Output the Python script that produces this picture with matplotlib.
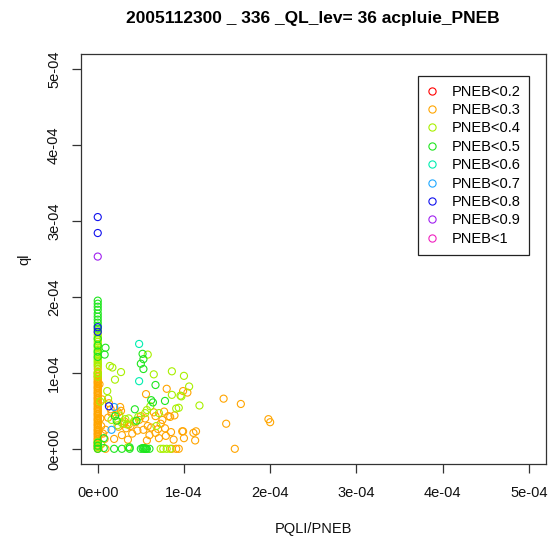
import matplotlib
matplotlib.use("Agg")
import matplotlib.pyplot as plt
from matplotlib.lines import Line2D

plt.rcParams['font.family'] = ['Liberation Sans', 'DejaVu Sans']

SCALE = 1e-4  # all values below are in units of 1e-4

title = "2005112300 _ 336 _QL_lev= 36 acpluie_PNEB"
xlabel = "PQLI/PNEB"
ylabel = "ql"
tick_values = [0, 1, 2, 3, 4, 5]
tick_labels = ["0e+00", "1e-04", "2e-04", "3e-04", "4e-04", "5e-04"]

classes = ["PNEB<0.2", "PNEB<0.3", "PNEB<0.4", "PNEB<0.5", "PNEB<0.6",
           "PNEB<0.7", "PNEB<0.8", "PNEB<0.9", "PNEB<1"]
colors = ["#FF0000", "#FFA500", "#A8F000", "#1EE61E", "#00EEB0",
          "#20A8FF", "#1010EE", "#A020F0", "#F020C0"]

# PNEB < 0.2 : no points
x_02 = []
y_02 = []

# PNEB < 0.3
x_03 = [0, 0, 0, 0, 0, 0, 0, 0, 0, 0, 0, 0, 0, 0, 0, 0, 0, 0, 0, 0,
        0, 0, 0, 0, 0, 0, 0, 0, 0, 0, 0, 0, 0, 0, 0, 0, 0, 0, 0, 0,
        0, 0, 0, 0, 0, 0, 0, 0, 0, 0, 0, 0, 0, 0, 0, 0, 0, 0, 0, 0,
        0.27, 0.24, 0.56, 0.80, 0.99, 1.04, 1.46, 1.66, 1.49, 1.98,
        2.00, 0.99, 1.00, 1.11, 1.14, 1.13, 1.59, 0.94, 0.91, 0.86,
        0.09, 0.50, 0.48, 0.55, 0.67, 0.77, 0.75, 0.82, 0.98, 0.79,
        0.71, 0.67, 0.60, 0.53, 0.46, 0.28, 0.24, 0.09, 0.08, 0.19,
        0.13, 0.15, 0.16, 0.38, 0.33, 0.62, 0.70, 0.44, 0.58, 0.85,
        0.73, 0.40, 0.31, 0.03, 0.05, 0.02, 0.04, 0.65, 0.88, 0.36,
        0.21, 0.30, 0.12, 0.26, 0.84, 0.89, 0.78, 0.57, 0.06, 0.35]
y_03 = [0.00, 0.02, 0.03, 0.05, 0.07, 0.08, 0.10, 0.12, 0.13, 0.15,
        0.17, 0.19, 0.20, 0.22, 0.24, 0.25, 0.27, 0.29, 0.31, 0.32,
        0.34, 0.36, 0.38, 0.39, 0.41, 0.43, 0.45, 0.46, 0.48, 0.50,
        0.52, 0.53, 0.55, 0.57, 0.59, 0.60, 0.62, 0.64, 0.66, 0.67,
        0.69, 0.71, 0.73, 0.74, 0.76, 0.78, 0.80, 0.81, 0.83, 0.85,
        0.87, 0.88, 0.90, 0.92, 0.94, 0.96, 0.98, 1.01, 1.05, 1.10,
        0.50, 0.48, 0.72, 0.79, 0.76, 0.74, 0.66, 0.59, 0.33, 0.39,
        0.35, 0.23, 0.14, 0.21, 0.23, 0.11, 0.00, 0.00, 0.00, 0.00,
        0.00, 0.43, 0.38, 0.40, 0.43, 0.49, 0.38, 0.43, 0.23, 0.17,
        0.14, 0.21, 0.18, 0.25, 0.24, 0.18, 0.29, 0.25, 0.13, 0.13,
        0.60, 0.52, 0.47, 0.30, 0.27, 0.28, 0.26, 0.35, 0.30, 0.22,
        0.33, 0.20, 0.36, 0.40, 0.65, 0.85, 0.30, 0.48, 0.12, 0.32,
        0.45, 0.33, 0.41, 0.55, 0.42, 0.44, 0.27, 0.11, 0.20, 0.12]

# PNEB < 0.4
x_04 = [0, 0, 0, 0, 0, 0, 0, 0, 0, 0, 0, 0, 0, 0, 0, 0, 0, 0, 0, 0,
        0, 0, 0, 0, 0,
        0.58, 0.14, 0.17, 0.27, 0.20, 0.65, 0.86, 1.00, 1.06, 0.11,
        0.86, 0.96, 1.18, 0.91, 0.57, 0.97, 0.94, 0.32, 0.36, 0.28,
        0.34, 0.16, 0.71, 0.55, 0.73, 0.76, 0.80, 0.35, 0.84, 0.42,
        0.04, 0.03, 0.12, 0.61, 0.25, 0.23, 0.68, 0.47]
y_04 = [1.12, 1.14, 1.16, 1.18, 1.20, 1.23, 1.25, 1.27, 1.30, 1.33,
        1.35, 1.38, 1.41, 1.44, 1.47, 1.50, 1.53, 1.56, 0.02, 0.05,
        0.09, 1.00, 0.95, 0.99, 1.08,
        1.24, 1.09, 1.07, 1.01, 0.91, 0.98, 1.02, 0.96, 0.82, 0.76,
        0.71, 0.70, 0.57, 0.53, 0.51, 0.69, 0.54, 0.39, 0.40, 0.34,
        0.32, 0.38, 0.47, 0.47, 0.00, 0.00, 0.00, 0.02, 0.00, 0.36,
        0.06, 0.62, 0.66, 0.56, 0.44, 0.31, 0.30, 0.42]

# PNEB < 0.5
x_05 = [0, 0, 0, 0, 0, 0, 0, 0, 0, 0, 0, 0, 0, 0, 0, 0, 0,
        0.09, 0.08, 0.52, 0.53, 0.50, 0.53, 0.67, 0.62, 0.64, 0.78,
        0.43, 0.20, 0.22, 0.45, 0.19, 0.28, 0.37, 0.37, 0.50, 0.53,
        0.55, 0.57, 0.60, 0.52, 0.07, 0.07, 0.54, 0.56]
y_05 = [1.95, 1.91, 1.87, 1.83, 1.78, 1.74, 1.70, 1.66, 1.62, 1.58,
        1.45, 1.36, 1.28, 1.21, 0.00, 0.04, 0.08,
        1.33, 1.24, 1.25, 1.18, 1.12, 1.05, 0.84, 0.64, 0.61, 0.63,
        0.52, 0.43, 0.37, 0.37, 0.00, 0.00, 0.02, 0.00, 0.00, 0.00,
        0.00, 0.00, 0.00, 0.01, 0.14, 0.01, 0.01, 0.00]

# PNEB < 0.6
x_06 = [0.48, 0.48]
y_06 = [1.38, 0.89]

# PNEB < 0.7
x_07 = [0.19, 0.16]
y_07 = [0.55, 0.25]

# PNEB < 0.8
x_08 = [0, 0, 0, 0, 0.13]
y_08 = [3.05, 2.84, 1.60, 1.54, 0.56]

# PNEB < 0.9
x_09 = [0]
y_09 = [2.53]

# PNEB < 1 : no points
x_10 = []
y_10 = []

series_x = [x_02, x_03, x_04, x_05, x_06, x_07, x_08, x_09, x_10]
series_y = [y_02, y_03, y_04, y_05, y_06, y_07, y_08, y_09, y_10]

W, H = 550, 538
fig = plt.figure(figsize=(W / 100, H / 100), dpi=100)
left, right, top, bottom = 80.5, 546, 53.7, 464
ax = fig.add_axes([left / W, 1 - bottom / H, (right - left) / W, (bottom - top) / H])

for xs, ys, c in zip(series_x, series_y, colors):
    if xs:
        ax.scatter([v * SCALE for v in xs], [v * SCALE for v in ys],
                   s=26, facecolors='none', edgecolors=c, linewidths=0.8)

ax.set_xlim(-0.2 * SCALE, 5.2 * SCALE)
ax.set_ylim(-0.2 * SCALE, 5.2 * SCALE)
ax.set_xticks([v * SCALE for v in tick_values])
ax.set_xticklabels(tick_labels)
ax.set_yticks([v * SCALE for v in tick_values])
ax.set_yticklabels(tick_labels, rotation=90, va='center')

for sp in ax.spines.values():
    sp.set_color('#333333')
    sp.set_linewidth(0.9)
ax.tick_params(axis='both', direction='out', length=6.5, width=0.9,
               color='#333333', labelsize=10.5, labelcolor='#111111')
ax.tick_params(axis='x', pad=9)
ax.tick_params(axis='y', pad=7.5)

ax.set_xlabel(xlabel, fontsize=10.5, labelpad=16, color='#111111')
ax.set_ylabel(ylabel, fontsize=10.5, labelpad=11, color='#111111')
fig.text((left + right) / 2 / W, 1 - 18 / H, title, ha='center', va='center',
         fontsize=12.5, fontweight='bold')

handles = [Line2D([], [], linestyle='none', marker='o', markersize=5.2,
                  markerfacecolor='none', markeredgecolor=c, markeredgewidth=0.8)
           for c in colors]
leg = ax.legend(handles, classes, loc='upper left',
                bbox_to_anchor=(418 / W, 1 - 76 / H), bbox_transform=fig.transFigure,
                fontsize=10.5, frameon=True, fancybox=False, framealpha=1,
                edgecolor='#222222', borderpad=0.6, labelspacing=0.30,
                handlelength=0.7, handletextpad=1.0, borderaxespad=0)
leg.get_frame().set_linewidth(0.9)

fig.savefig("out.png", dpi=100)
